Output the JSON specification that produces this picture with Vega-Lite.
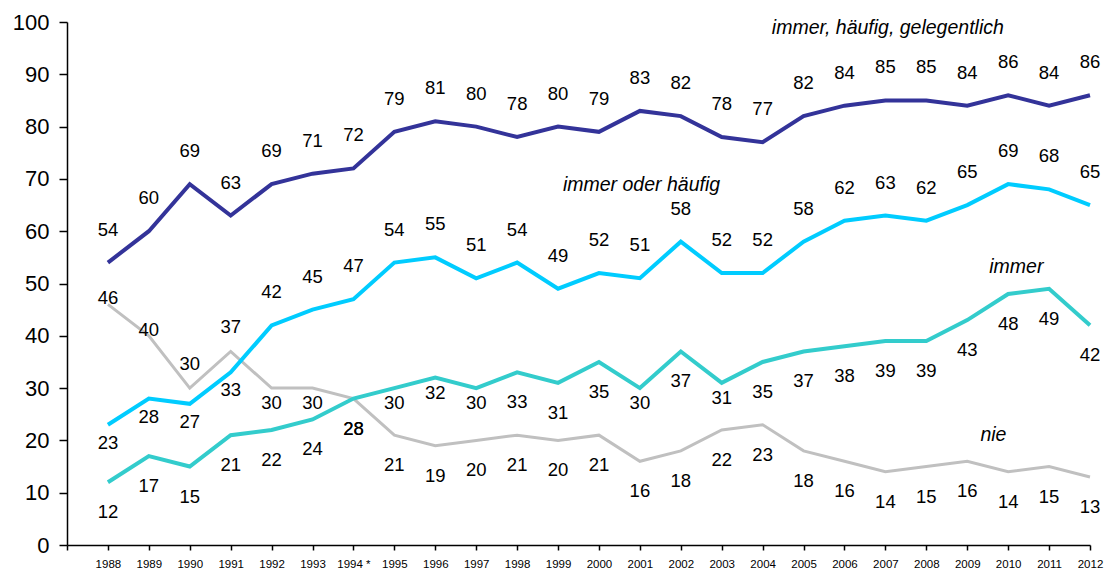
{
  "$schema": "https://vega.github.io/schema/vega-lite/v6.json",
  "width": 1023,
  "height": 523,
  "autosize": {"type": "none"},
  "padding": {"left": 67, "top": 22, "right": 19, "bottom": 26},
  "background": "white",
  "config": {
    "view": {"stroke": null},
    "font": "Liberation Sans",
    "text": {"font": "Liberation Sans", "fontSize": 18.5, "color": "#000000", "baseline": "middle", "align": "center"}
  },
  "data": {
    "values": [
      {"year": 1988, "series": "immer, häufig, gelegentlich", "value": 54},
      {"year": 1989, "series": "immer, häufig, gelegentlich", "value": 60},
      {"year": 1990, "series": "immer, häufig, gelegentlich", "value": 69},
      {"year": 1991, "series": "immer, häufig, gelegentlich", "value": 63},
      {"year": 1992, "series": "immer, häufig, gelegentlich", "value": 69},
      {"year": 1993, "series": "immer, häufig, gelegentlich", "value": 71},
      {"year": 1994, "series": "immer, häufig, gelegentlich", "value": 72},
      {"year": 1995, "series": "immer, häufig, gelegentlich", "value": 79},
      {"year": 1996, "series": "immer, häufig, gelegentlich", "value": 81},
      {"year": 1997, "series": "immer, häufig, gelegentlich", "value": 80},
      {"year": 1998, "series": "immer, häufig, gelegentlich", "value": 78},
      {"year": 1999, "series": "immer, häufig, gelegentlich", "value": 80},
      {"year": 2000, "series": "immer, häufig, gelegentlich", "value": 79},
      {"year": 2001, "series": "immer, häufig, gelegentlich", "value": 83},
      {"year": 2002, "series": "immer, häufig, gelegentlich", "value": 82},
      {"year": 2003, "series": "immer, häufig, gelegentlich", "value": 78},
      {"year": 2004, "series": "immer, häufig, gelegentlich", "value": 77},
      {"year": 2005, "series": "immer, häufig, gelegentlich", "value": 82},
      {"year": 2006, "series": "immer, häufig, gelegentlich", "value": 84},
      {"year": 2007, "series": "immer, häufig, gelegentlich", "value": 85},
      {"year": 2008, "series": "immer, häufig, gelegentlich", "value": 85},
      {"year": 2009, "series": "immer, häufig, gelegentlich", "value": 84},
      {"year": 2010, "series": "immer, häufig, gelegentlich", "value": 86},
      {"year": 2011, "series": "immer, häufig, gelegentlich", "value": 84},
      {"year": 2012, "series": "immer, häufig, gelegentlich", "value": 86},
      {"year": 1988, "series": "immer oder häufig", "value": 23},
      {"year": 1989, "series": "immer oder häufig", "value": 28},
      {"year": 1990, "series": "immer oder häufig", "value": 27},
      {"year": 1991, "series": "immer oder häufig", "value": 33},
      {"year": 1992, "series": "immer oder häufig", "value": 42},
      {"year": 1993, "series": "immer oder häufig", "value": 45},
      {"year": 1994, "series": "immer oder häufig", "value": 47},
      {"year": 1995, "series": "immer oder häufig", "value": 54},
      {"year": 1996, "series": "immer oder häufig", "value": 55},
      {"year": 1997, "series": "immer oder häufig", "value": 51},
      {"year": 1998, "series": "immer oder häufig", "value": 54},
      {"year": 1999, "series": "immer oder häufig", "value": 49},
      {"year": 2000, "series": "immer oder häufig", "value": 52},
      {"year": 2001, "series": "immer oder häufig", "value": 51},
      {"year": 2002, "series": "immer oder häufig", "value": 58},
      {"year": 2003, "series": "immer oder häufig", "value": 52},
      {"year": 2004, "series": "immer oder häufig", "value": 52},
      {"year": 2005, "series": "immer oder häufig", "value": 58},
      {"year": 2006, "series": "immer oder häufig", "value": 62},
      {"year": 2007, "series": "immer oder häufig", "value": 63},
      {"year": 2008, "series": "immer oder häufig", "value": 62},
      {"year": 2009, "series": "immer oder häufig", "value": 65},
      {"year": 2010, "series": "immer oder häufig", "value": 69},
      {"year": 2011, "series": "immer oder häufig", "value": 68},
      {"year": 2012, "series": "immer oder häufig", "value": 65},
      {"year": 1988, "series": "immer", "value": 12},
      {"year": 1989, "series": "immer", "value": 17},
      {"year": 1990, "series": "immer", "value": 15},
      {"year": 1991, "series": "immer", "value": 21},
      {"year": 1992, "series": "immer", "value": 22},
      {"year": 1993, "series": "immer", "value": 24},
      {"year": 1994, "series": "immer", "value": 28},
      {"year": 1995, "series": "immer", "value": 30},
      {"year": 1996, "series": "immer", "value": 32},
      {"year": 1997, "series": "immer", "value": 30},
      {"year": 1998, "series": "immer", "value": 33},
      {"year": 1999, "series": "immer", "value": 31},
      {"year": 2000, "series": "immer", "value": 35},
      {"year": 2001, "series": "immer", "value": 30},
      {"year": 2002, "series": "immer", "value": 37},
      {"year": 2003, "series": "immer", "value": 31},
      {"year": 2004, "series": "immer", "value": 35},
      {"year": 2005, "series": "immer", "value": 37},
      {"year": 2006, "series": "immer", "value": 38},
      {"year": 2007, "series": "immer", "value": 39},
      {"year": 2008, "series": "immer", "value": 39},
      {"year": 2009, "series": "immer", "value": 43},
      {"year": 2010, "series": "immer", "value": 48},
      {"year": 2011, "series": "immer", "value": 49},
      {"year": 2012, "series": "immer", "value": 42},
      {"year": 1988, "series": "nie", "value": 46},
      {"year": 1989, "series": "nie", "value": 40},
      {"year": 1990, "series": "nie", "value": 30},
      {"year": 1991, "series": "nie", "value": 37},
      {"year": 1992, "series": "nie", "value": 30},
      {"year": 1993, "series": "nie", "value": 30},
      {"year": 1994, "series": "nie", "value": 28},
      {"year": 1995, "series": "nie", "value": 21},
      {"year": 1996, "series": "nie", "value": 19},
      {"year": 1997, "series": "nie", "value": 20},
      {"year": 1998, "series": "nie", "value": 21},
      {"year": 1999, "series": "nie", "value": 20},
      {"year": 2000, "series": "nie", "value": 21},
      {"year": 2001, "series": "nie", "value": 16},
      {"year": 2002, "series": "nie", "value": 18},
      {"year": 2003, "series": "nie", "value": 22},
      {"year": 2004, "series": "nie", "value": 23},
      {"year": 2005, "series": "nie", "value": 18},
      {"year": 2006, "series": "nie", "value": 16},
      {"year": 2007, "series": "nie", "value": 14},
      {"year": 2008, "series": "nie", "value": 15},
      {"year": 2009, "series": "nie", "value": 16},
      {"year": 2010, "series": "nie", "value": 14},
      {"year": 2011, "series": "nie", "value": 15},
      {"year": 2012, "series": "nie", "value": 13}
    ]
  },
  "encoding": {
    "x": {
      "field": "year", "type": "quantitative",
      "scale": {"domain": [1987, 2012], "nice": false, "zero": false},
      "axis": {
        "title": null, "grid": false,
        "values": [1987,1988,1989,1990,1991,1992,1993,1994,1995,1996,1997,1998,1999,2000,2001,2002,2003,2004,2005,2006,2007,2008,2009,2010,2011,2012],
        "labelExpr": "datum.value == 1987 ? '' : (datum.value == 1994 ? '1994 *' : '' + datum.value)",
        "labelFont": "Liberation Sans", "labelFontSize": 11.5, "labelColor": "#000000",
        "labelOverlap": false, "labelFlush": false, "labelAngle": 0,
        "tickSize": 5, "tickColor": "#000000", "tickWidth": 1.5,
        "domainColor": "#000000", "domainWidth": 1.5, "labelPadding": 8
      }
    },
    "y": {
      "field": "value", "type": "quantitative",
      "scale": {"domain": [0, 100], "nice": false},
      "axis": {
        "title": null, "grid": false,
        "values": [0,10,20,30,40,50,60,70,80,90,100],
        "labelFont": "Liberation Sans", "labelFontSize": 22, "labelColor": "#000000",
        "tickSize": 8, "tickColor": "#000000", "tickWidth": 1.5,
        "domainColor": "#000000", "domainWidth": 1.5, "labelPadding": 10
      }
    }
  },
  "layer": [
    {
      "transform": [{"filter": "datum.series == 'nie'"}],
      "mark": {"type": "line", "strokeWidth": 3, "color": "#C0C0C0"},
      "encoding": {}
    },
    {
      "transform": [{"filter": "datum.series == 'immer'"}],
      "mark": {"type": "line", "strokeWidth": 4, "color": "#33CCCC"},
      "encoding": {}
    },
    {
      "transform": [{"filter": "datum.series == 'immer oder häufig'"}],
      "mark": {"type": "line", "strokeWidth": 4, "color": "#00CCFF"},
      "encoding": {}
    },
    {
      "transform": [{"filter": "datum.series == 'immer, häufig, gelegentlich'"}],
      "mark": {"type": "line", "strokeWidth": 4, "color": "#333399"},
      "encoding": {}
    },
    {
      "transform": [{"filter": "datum.series == 'immer, häufig, gelegentlich' || (datum.series == 'immer oder häufig' && datum.year >= 1992)"}],
      "mark": {"type": "text", "dy": -33},
      "encoding": {"text": {"field": "value", "type": "quantitative"}}
    },
    {
      "transform": [{"filter": "datum.series == 'immer oder häufig' && datum.year <= 1991"}],
      "mark": {"type": "text", "dy": 18},
      "encoding": {"text": {"field": "value", "type": "quantitative"}}
    },
    {
      "transform": [{"filter": "(datum.series == 'immer' && indexof([1995,1996,1997,2001,2003], datum.year) < 0) || (datum.series == 'nie' && datum.year >= 1994)"}],
      "mark": {"type": "text", "dy": 30},
      "encoding": {"text": {"field": "value", "type": "quantitative"}}
    },
    {
      "transform": [{"filter": "(datum.series == 'immer' && indexof([1995,1996,1997,2001,2003], datum.year) >= 0) || (datum.series == 'nie' && (datum.year == 1992 || datum.year == 1993))"}],
      "mark": {"type": "text", "dy": 15},
      "encoding": {"text": {"field": "value", "type": "quantitative"}}
    },
    {
      "transform": [{"filter": "datum.series == 'nie' && datum.year <= 1989"}],
      "mark": {"type": "text", "dy": -6},
      "encoding": {"text": {"field": "value", "type": "quantitative"}}
    },
    {
      "transform": [{"filter": "datum.series == 'nie' && (datum.year == 1990 || datum.year == 1991)"}],
      "mark": {"type": "text", "dy": -24},
      "encoding": {"text": {"field": "value", "type": "quantitative"}}
    },
    {
      "transform": [{"filter": "datum.series == 'immer, häufig, gelegentlich' && datum.year == 2012"}],
      "mark": {"type": "text", "fontStyle": "italic", "fontSize": 19.5, "text": "immer, häufig, gelegentlich"},
      "encoding": {"x": {"datum": 2007.06}, "y": {"datum": 98.9}}
    },
    {
      "transform": [{"filter": "datum.series == 'immer oder häufig' && datum.year == 2012"}],
      "mark": {"type": "text", "fontStyle": "italic", "fontSize": 19.5, "text": "immer oder häufig"},
      "encoding": {"x": {"datum": 2001.04}, "y": {"datum": 68.8}}
    },
    {
      "transform": [{"filter": "datum.series == 'immer' && datum.year == 2012"}],
      "mark": {"type": "text", "fontStyle": "italic", "fontSize": 19.5, "text": "immer"},
      "encoding": {"x": {"datum": 2010.2}, "y": {"datum": 53.2}}
    },
    {
      "transform": [{"filter": "datum.series == 'nie' && datum.year == 2012"}],
      "mark": {"type": "text", "fontStyle": "italic", "fontSize": 19.5, "text": "nie"},
      "encoding": {"x": {"datum": 2009.64}, "y": {"datum": 21.0}}
    }
  ]
}
